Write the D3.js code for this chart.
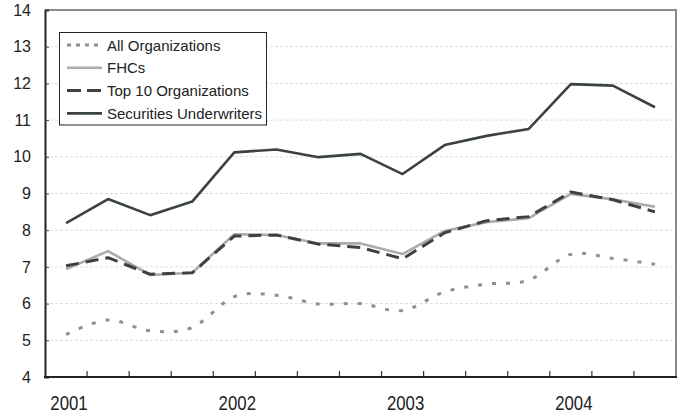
<!DOCTYPE html>
<html><head><meta charset="utf-8">
<script src="https://cdn.jsdelivr.net/npm/d3@7"></script>
<style>body{margin:0;background:#fff}svg{display:block;font-family:"Liberation Sans",Arial,sans-serif}</style>
</head><body><svg id="c" width="684" height="415"></svg>
<script>
const quarters = ["2001Q1","2001Q2","2001Q3","2001Q4","2002Q1","2002Q2","2002Q3","2002Q4","2003Q1","2003Q2","2003Q3","2003Q4","2004Q1","2004Q2","2004Q3"];
const yearLabels = ["2001","2002","2003","2004"];
const yTicks = [4,5,6,7,8,9,10,11,12,13,14];
const allOrgs = [5.16,5.55,5.26,5.35,6.19,6.23,5.99,6.00,5.81,6.32,6.53,6.64,7.34,7.23,7.07];
const fhcs = [6.94,7.43,6.78,6.84,7.89,7.87,7.64,7.64,7.35,7.98,8.22,8.33,8.99,8.84,8.64];
const top10 = [7.03,7.25,6.80,6.84,7.84,7.87,7.62,7.53,7.22,7.93,8.26,8.37,9.04,8.83,8.50];
const secUnd = [8.19,8.85,8.41,8.78,10.12,10.20,9.99,10.08,9.53,10.32,10.57,10.76,11.98,11.94,11.35];
const seriesNames = ["All Organizations","FHCs","Top 10 Organizations","Securities Underwriters"];

const svg = d3.select("#c");
const L=45, R=676, T=10, B=377;
const x = d3.scaleBand().domain(quarters).range([L,R]);
const y = d3.scaleLinear().domain([4,14]).range([B,T]);

// gridlines
svg.append("g").selectAll("line").data(yTicks.slice(1,-1)).join("line")
  .attr("x1",L).attr("x2",R).attr("y1",d=>y(d)).attr("y2",d=>y(d))
  .attr("stroke","#dcdcdc").attr("stroke-width",1).attr("stroke-dasharray","3,2");

// frame top/right
svg.append("path").attr("d",`M${L},${T}H${R}V${B}`).attr("fill","none").attr("stroke","#8a8a8a").attr("stroke-width",2);

// y axis
const ya = d3.axisLeft(y).tickValues(yTicks).tickSize(-4).tickPadding(14).tickFormat(d3.format("d"));
const yg = svg.append("g").attr("transform",`translate(${L},0)`).call(ya);
yg.select(".domain").attr("stroke","#222").attr("stroke-width",2);
yg.selectAll(".tick line").attr("stroke","#444");
yg.selectAll("text").attr("font-size",16).attr("fill","#222").attr("font-family","Liberation Sans, Arial, sans-serif");

// x axis: ticks at quarter boundaries
const bounds = quarters.map(q=>x(q)).concat([R]);
const xg = svg.append("g");
xg.selectAll("line").data(bounds.slice(1,-1)).join("line")
  .attr("x1",d=>d).attr("x2",d=>d).attr("y1",B).attr("y2",B-6).attr("stroke","#333").attr("stroke-width",1.2);
xg.append("line").attr("x1",L-1).attr("x2",R+1).attr("y1",B).attr("y2",B).attr("stroke","#222").attr("stroke-width",2);
xg.selectAll("text").data(yearLabels).join("text")
  .attr("transform",(d,i)=>`translate(${x(quarters[i*4])+x.bandwidth()/2+3},410) scale(0.84,1)`)
  .attr("text-anchor","middle").attr("font-size",20).attr("fill","#222").text(d=>d);

const cx = q => x(q)+x.bandwidth()/2;
function lineFor(vals, curve){
  return d3.line().x((d,i)=>cx(quarters[i])).y(d=>y(d)).curve(curve)(vals);
}
const styles = [
  {vals:allOrgs, color:"#8f8f8f", w:3, dash:"4,10", curve:d3.curveCardinal.tension(0), ldash:"4,5"},
  {vals:fhcs, color:"#ababab", w:2.6, dash:null, curve:d3.curveLinear, ldash:null},
  {vals:top10, color:"#3b4341", w:3, dash:"13,7", curve:d3.curveLinear, ldash:"14,6"},
  {vals:secUnd, color:"#3b4341", w:2.6, dash:null, curve:d3.curveLinear, ldash:null}
];
styles.forEach(s=>{
  svg.append("path").attr("d",lineFor(s.vals,s.curve)).attr("fill","none")
    .attr("stroke",s.color).attr("stroke-width",s.w).attr("stroke-dasharray",s.dash)
    .attr("stroke-linejoin","round");
});

// legend
const lg = svg.append("g");
lg.append("rect").attr("x",59.5).attr("y",32.5).attr("width",207).attr("height",92.5)
  .attr("fill","#fff").attr("stroke","#222").attr("stroke-width",1);
styles.forEach((s,i)=>{
  const yy = 45 + i*22.8;
  lg.append("line").attr("x1",67).attr("x2",102).attr("y1",yy).attr("y2",yy)
    .attr("stroke",s.color).attr("stroke-width",s.w).attr("stroke-dasharray",s.ldash);
  lg.append("text").attr("x",107).attr("y",yy+5.5).attr("font-size",15).attr("fill","#222").text(seriesNames[i]);
});
</script></body></html>
